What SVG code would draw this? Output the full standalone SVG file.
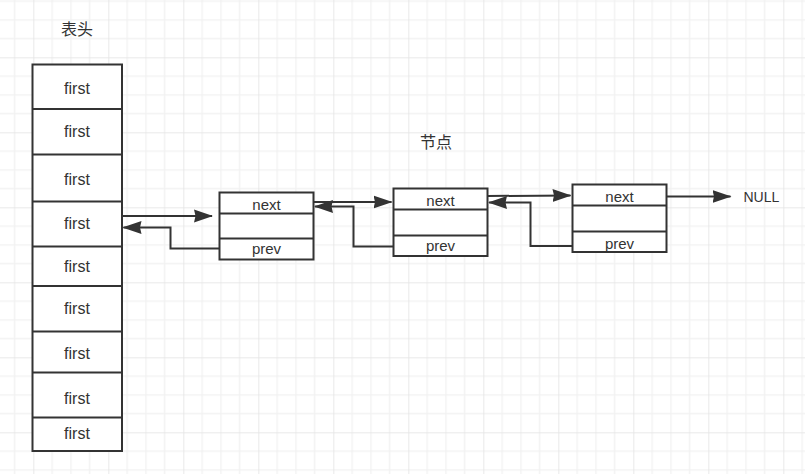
<svg xmlns="http://www.w3.org/2000/svg" width="805" height="474" viewBox="0 0 805 474">
<defs>
<pattern id="grid" patternUnits="userSpaceOnUse" x="33.33" y="57.33" width="75" height="75">
<rect width="75" height="75" fill="#ffffff"/>
<g fill="#f1f1f1">
<rect x="18.25" y="0" width="1.2" height="75"/>
<rect x="37" y="0" width="1.2" height="75"/>
<rect x="55.75" y="0" width="1.2" height="75"/>
<rect x="0" y="18.25" width="75" height="1.2"/>
<rect x="0" y="37" width="75" height="1.2"/>
<rect x="0" y="55.75" width="75" height="1.2"/>
</g>
<g fill="#e4e4e4">
<rect x="-0.6" y="0" width="1.4" height="75"/>
<rect x="0" y="-0.6" width="75" height="1.4"/>
</g>
</pattern>
<marker id="arr" viewBox="0 0 19 14" refX="18" refY="7" markerWidth="19" markerHeight="14" markerUnits="userSpaceOnUse" orient="auto">
<path d="M0,0.5 L19,7 L0,13.5 L1.5,7 Z" fill="#333333"/>
</marker>
<style>
.box{fill:#ffffff;stroke:#333333;stroke-width:2}
.div{stroke:#333333;stroke-width:2}
.t{font-family:"Liberation Sans","Noto Sans CJK SC",sans-serif;fill:#333333;text-anchor:middle}
.f{font-size:16px}
.n{font-size:15px}
.c{font-size:16px;font-family:"Noto Sans CJK SC","Liberation Sans",sans-serif}
.conn{fill:none;stroke:#333333;stroke-width:2;marker-end:url(#arr)}
</style>
</defs>
<rect width="805" height="474" fill="url(#grid)"/>

<g id="label-head"><text class="t c" x="77" y="35">表头</text></g>
<g id="label-node"><text class="t c" x="436" y="148">节点</text></g>

<g id="table">
<rect class="box" x="32.5" y="64.5" width="89.5" height="386.5"/>
<g class="div">
<line x1="32.5" y1="109" x2="122" y2="109"/>
<line x1="32.5" y1="154.5" x2="122" y2="154.5"/>
<line x1="32.5" y1="201.5" x2="122" y2="201.5"/>
<line x1="32.5" y1="246.5" x2="122" y2="246.5"/>
<line x1="32.5" y1="286" x2="122" y2="286"/>
<line x1="32.5" y1="331.5" x2="122" y2="331.5"/>
<line x1="32.5" y1="372.5" x2="122" y2="372.5"/>
<line x1="32.5" y1="417.5" x2="122" y2="417.5"/>
</g>
<text class="t f" x="77" y="94">first</text>
<text class="t f" x="77" y="137">first</text>
<text class="t f" x="77" y="185">first</text>
<text class="t f" x="77" y="228.5">first</text>
<text class="t f" x="77" y="271.5">first</text>
<text class="t f" x="77" y="313.5">first</text>
<text class="t f" x="77" y="359">first</text>
<text class="t f" x="77" y="404">first</text>
<text class="t f" x="77" y="439">first</text>
</g>

<g id="node1">
<rect class="box" x="219.5" y="192.5" width="94" height="67"/>
<line class="div" x1="219.5" y1="213.5" x2="313.5" y2="213.5"/>
<line class="div" x1="219.5" y1="238.5" x2="313.5" y2="238.5"/>
<text class="t n" x="266.5" y="209.5">next</text>
<text class="t n" x="266.5" y="254">prev</text>
</g>

<g id="node2">
<rect class="box" x="393.5" y="188.5" width="94" height="67.5"/>
<line class="div" x1="393.5" y1="209.5" x2="487.5" y2="209.5"/>
<line class="div" x1="393.5" y1="235.5" x2="487.5" y2="235.5"/>
<text class="t n" x="440.5" y="206">next</text>
<text class="t n" x="440.5" y="251">prev</text>
</g>

<g id="node3">
<rect class="box" x="572.5" y="184.5" width="94" height="67.5"/>
<line class="div" x1="572.5" y1="205.5" x2="666.5" y2="205.5"/>
<line class="div" x1="572.5" y1="231.5" x2="666.5" y2="231.5"/>
<text class="t n" x="619.5" y="202">next</text>
<text class="t n" x="619.5" y="248.5">prev</text>
</g>

<g id="null"><text class="t" style="font-size:14px;text-anchor:start" x="743.5" y="202">NULL</text></g>

<g id="connectors">
<path class="conn" d="M122,216 L212,216"/>
<path class="conn" d="M219.5,248.5 L170.5,248.5 L170.5,227.5 L123.5,227.5"/>
<path class="conn" d="M313.5,202 L391.5,202"/>
<path class="conn" d="M393.5,246.5 L353.5,246.5 L353.5,206.5 L315,206.5"/>
<path class="conn" d="M487.5,196 L570.5,195.5"/>
<path class="conn" d="M572.5,246 L530.5,246 L530.5,202.5 L489,202.5"/>
<path class="conn" d="M666.5,196.5 L730.5,196.5"/>
</g>
</svg>
